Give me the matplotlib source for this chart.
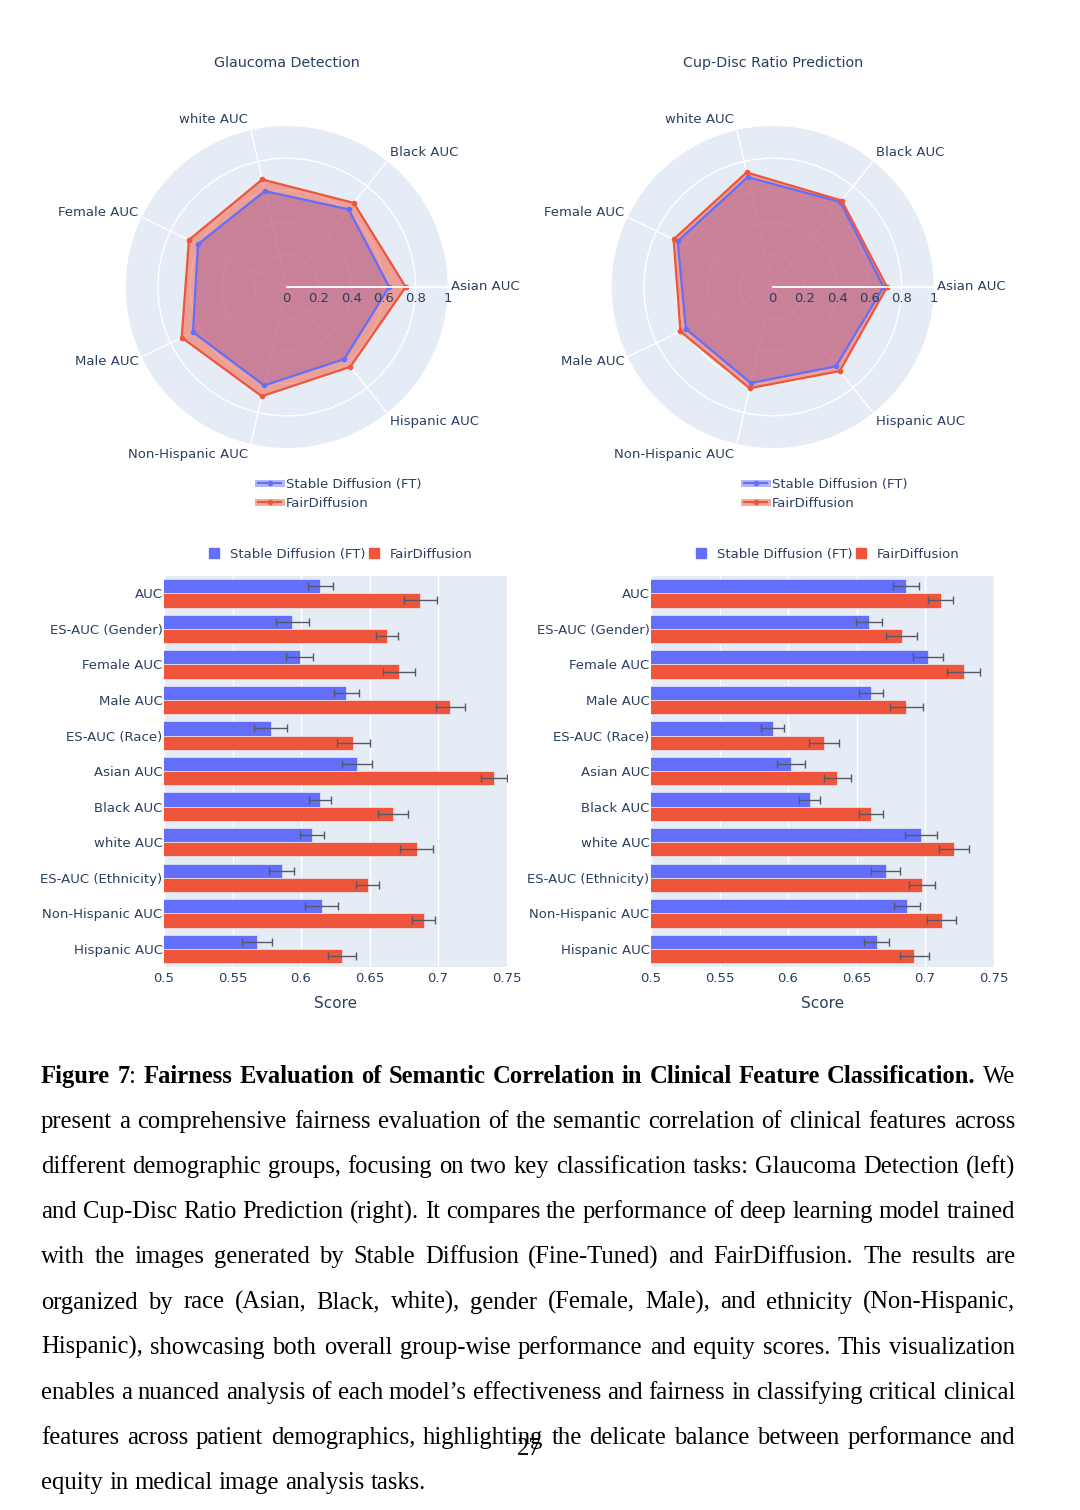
import numpy as np
import matplotlib.pyplot as plt
from matplotlib.lines import Line2D

plt.rcParams['font.family'] = ['DejaVu Sans']

# ==========================================
# データ
# ==========================================
radar_titles = ['Glaucoma Detection', 'Cup-Disc Ratio Prediction']
radar_cats = ['Asian AUC', 'Black AUC', 'white AUC', 'Female AUC', 'Male AUC',
              'Non-Hispanic AUC', 'Hispanic AUC']
radar_sd_glaucoma = [0.637, 0.617, 0.611, 0.612, 0.646, 0.627, 0.573]
radar_fd_glaucoma = [0.739, 0.668, 0.685, 0.674, 0.724, 0.696, 0.634]
radar_sd_cdr = [0.689, 0.675, 0.700, 0.655, 0.599, 0.612, 0.630]
radar_fd_cdr = [0.710, 0.687, 0.730, 0.683, 0.636, 0.645, 0.668]
radial_ticks = [0, 0.2, 0.4, 0.6, 0.8, 1]
radial_tick_labels = ['0', '0.2', '0.4', '0.6', '0.8', '1']

bar_cats = ['AUC', 'ES-AUC (Gender)', 'Female AUC', 'Male AUC', 'ES-AUC (Race)',
            'Asian AUC', 'Black AUC', 'white AUC', 'ES-AUC (Ethnicity)',
            'Non-Hispanic AUC', 'Hispanic AUC']
# Glaucoma Detection
bar_sd_glaucoma = [0.614, 0.5935, 0.599, 0.633, 0.578, 0.641, 0.614, 0.608, 0.586, 0.615, 0.568]
bar_sd_glaucoma_err = [0.009, 0.012, 0.010, 0.009, 0.012, 0.011, 0.008, 0.009, 0.009, 0.012, 0.011]
bar_fd_glaucoma = [0.687, 0.6625, 0.6715, 0.709, 0.638, 0.741, 0.667, 0.6846, 0.6487, 0.6895, 0.630]
bar_fd_glaucoma_err = [0.012, 0.008, 0.012, 0.0105, 0.012, 0.0095, 0.011, 0.012, 0.0085, 0.0085, 0.010]
# Cup-Disc Ratio Prediction
bar_sd_cdr = [0.686, 0.659, 0.702, 0.6605, 0.5887, 0.6023, 0.6157, 0.697, 0.6713, 0.6871, 0.6647]
bar_sd_cdr_err = [0.0095, 0.0097, 0.011, 0.009, 0.0086, 0.010, 0.008, 0.0118, 0.0106, 0.0095, 0.009]
bar_fd_cdr = [0.7115, 0.683, 0.7283, 0.6864, 0.6262, 0.636, 0.6608, 0.7213, 0.6979, 0.7122, 0.6923]
bar_fd_cdr_err = [0.0093, 0.0115, 0.012, 0.012, 0.0107, 0.010, 0.0088, 0.011, 0.0095, 0.0107, 0.0103]
x_ticks = [0.5, 0.55, 0.6, 0.65, 0.7, 0.75]
x_tick_labels = ['0.5', '0.55', '0.6', '0.65', '0.7', '0.75']

series_names = ['Stable Diffusion (FT)', 'FairDiffusion']

caption_lines = [
    "Figure 7: Fairness Evaluation of Semantic Correlation in Clinical Feature Classification. We",
    "present a comprehensive fairness evaluation of the semantic correlation of clinical features across",
    "different demographic groups, focusing on two key classification tasks: Glaucoma Detection (left)",
    "and Cup-Disc Ratio Prediction (right). It compares the performance of deep learning model trained",
    "with the images generated by Stable Diffusion (Fine-Tuned) and FairDiffusion. The results are",
    "organized by race (Asian, Black, white), gender (Female, Male), and ethnicity (Non-Hispanic,",
    "Hispanic), showcasing both overall group-wise performance and equity scores. This visualization",
    "enables a nuanced analysis of each model\u2019s effectiveness and fairness in classifying critical clinical",
    "features across patient demographics, highlighting the delicate balance between performance and",
    "equity in medical image analysis tasks.",
]
n_bold_words = 11
page_number = '27'

# ==========================================
# スタイル
# ==========================================
BLUE = '#636EFA'
RED = '#EF553B'
BG = '#E5ECF6'
TXT = '#2a3f5f'
FS = 9.5
W, H = 1080, 1510

fig = plt.figure(figsize=(W / 100, H / 100), dpi=100)


def fx(px):
    return px / W


def fy(py):
    return 1 - py / H


# ==========================================
# レーダーチャート
# ==========================================
theta = np.linspace(0, 2 * np.pi, len(radar_cats), endpoint=False)
radar_sets = [(radar_sd_glaucoma, radar_fd_glaucoma), (radar_sd_cdr, radar_fd_cdr)]
centers = [(286.7, 287), (772.7, 287)]
R = 161

for k, ((cx, cy), (sd, fd)) in enumerate(zip(centers, radar_sets)):
    ax = fig.add_axes([fx(cx - R), fy(cy + R), 2 * R / W, 2 * R / H], projection='polar')
    ax.set_facecolor(BG)
    ax.spines['polar'].set_visible(False)
    ax.set_ylim(0, 1)
    ax.set_yticks([0.2, 0.4, 0.6, 0.8])
    ax.set_yticklabels([])
    ax.set_xticks(theta)
    ax.set_xticklabels([])
    ax.grid(True, color='white', lw=1)
    ax.tick_params(length=0)

    tc = np.append(theta, theta[0])
    for vals, col in [(sd, BLUE), (fd, RED)]:
        vc = np.append(vals, vals[0])
        ax.fill(tc, vc, color=col, alpha=0.5, lw=0, zorder=2)
        ax.plot(tc, vc, color=col, lw=1.6, marker='o', ms=3, zorder=3)

    ax.plot([0, 0], [0, 1], color='white', lw=1.3, zorder=4)
    for r, lbl in zip(radial_ticks, radial_tick_labels):
        ax.annotate(lbl, xy=(0, r), xytext=(0, -5), textcoords='offset pixels',
                    ha='center', va='top', fontsize=FS, color=TXT, zorder=5,
                    annotation_clip=False)

    for t, lbl in zip(theta, radar_cats):
        c, s = np.cos(t), np.sin(t)
        ha = 'left' if c > 0.05 else ('right' if c < -0.05 else 'center')
        ax.annotate(lbl, xy=(t, 1.0), xytext=(3 * np.sign(c), 11 * s),
                    textcoords='offset pixels', ha=ha, va='center',
                    fontsize=FS, color=TXT, annotation_clip=False)

    fig.text(fx(cx), fy(63), radar_titles[k], ha='center', va='center',
             fontsize=10.3, color=TXT)

    handles = []
    for col in [BLUE, RED]:
        band = Line2D([], [], color=col, alpha=0.5, lw=5)
        line = Line2D([], [], color=col, lw=1.5, marker='o', ms=3)
        handles.append((band, line))
    fig.legend(handles, series_names, loc='upper left',
               bbox_to_anchor=(fx(cx - 29), fy(478)), frameon=False,
               fontsize=FS, labelcolor=TXT, handlelength=1.8, handletextpad=0.35,
               labelspacing=0.45, borderpad=0, borderaxespad=0)

# ==========================================
# 棒グラフ
# ==========================================
bar_sets = [
    (bar_sd_glaucoma, bar_sd_glaucoma_err, bar_fd_glaucoma, bar_fd_glaucoma_err),
    (bar_sd_cdr, bar_sd_cdr_err, bar_fd_cdr, bar_fd_cdr_err),
]
bar_left = [164, 651]
y = np.arange(len(bar_cats))
bh = 0.4
for k, (sd, sde, fd, fde) in enumerate(bar_sets):
    ax = fig.add_axes([fx(bar_left[k]), fy(966.6), 342.5 / W, 391 / H])
    ax.set_facecolor(BG)
    for sp in ax.spines.values():
        sp.set_visible(False)
    ekw = dict(ecolor='#555a66', elinewidth=1, capsize=3, capthick=1)
    ax.barh(y - bh / 2, sd, height=bh, color=BLUE, edgecolor=BG, lw=0.5,
            xerr=sde, error_kw=ekw, label=series_names[0], zorder=2)
    ax.barh(y + bh / 2, fd, height=bh, color=RED, edgecolor=BG, lw=0.5,
            xerr=fde, error_kw=ekw, label=series_names[1], zorder=2)
    ax.set_xlim(0.5, 0.75)
    ax.set_ylim(len(bar_cats) - 0.5, -0.5)
    ax.set_yticks(y)
    ax.set_yticklabels(bar_cats)
    ax.set_xticks(x_ticks)
    ax.set_xticklabels(x_tick_labels)
    ax.tick_params(length=0, labelsize=FS, colors=TXT, pad=4)
    ax.tick_params(axis='y', pad=1)
    ax.grid(True, axis='x', color='white', lw=1, zorder=0)
    ax.set_axisbelow(True)
    ax.set_xlabel('Score', fontsize=11, color=TXT, labelpad=8)

    lh = [Line2D([], [], color=BLUE, marker='s', ms=6.5, ls='none'),
          Line2D([], [], color=RED, marker='s', ms=6.5, ls='none')]
    ax.legend(lh, series_names, loc='center', bbox_to_anchor=(0.51, 1.055),
              ncol=2, frameon=False, fontsize=FS, labelcolor=TXT,
              handlelength=1.4, handletextpad=0.5, columnspacing=0.0,
              borderpad=0)

# ==========================================
# キャプション (両端揃え)
# ==========================================
CAP_FS = 17.7
SERIF = 'Liberation Serif'
x_left, x_right = 41, 1015
base0, line_gap = 1083, 45.1

fig.canvas.draw()
renderer = fig.canvas.get_renderer()


def seg_width(s, weight):
    t = fig.text(0, 0, s, fontsize=CAP_FS, family=SERIF, weight=weight)
    w = t.get_window_extent(renderer).width
    t.remove()
    return w


space_w = seg_width('a a', 'normal') - seg_width('aa', 'normal')

for i, line in enumerate(caption_lines):
    words = []
    for j, w in enumerate(line.split()):
        if i == 0 and j < n_bold_words:
            if w.endswith(':'):
                words.append([(w[:-1], 'bold'), (':', 'normal')])
            else:
                words.append([(w, 'bold')])
        else:
            words.append([(w, 'normal')])
    widths = [[seg_width(s, wt) for s, wt in word] for word in words]
    total = sum(sum(ws) for ws in widths)
    last = i == len(caption_lines) - 1
    gap = space_w if last else (x_right - x_left - total) / (len(words) - 1)
    xpos = x_left
    base = base0 + i * line_gap
    for word, ws in zip(words, widths):
        for (s, wt), sw in zip(word, ws):
            fig.text(fx(xpos), fy(base), s, fontsize=CAP_FS, family=SERIF,
                     weight=wt, va='baseline', ha='left', color='black')
            xpos += sw
        xpos += gap

fig.text(fx(529), fy(1455), page_number, fontsize=CAP_FS, family=SERIF,
         ha='center', va='baseline', color='black')

fig.savefig('out.png', dpi=100, facecolor='white')
